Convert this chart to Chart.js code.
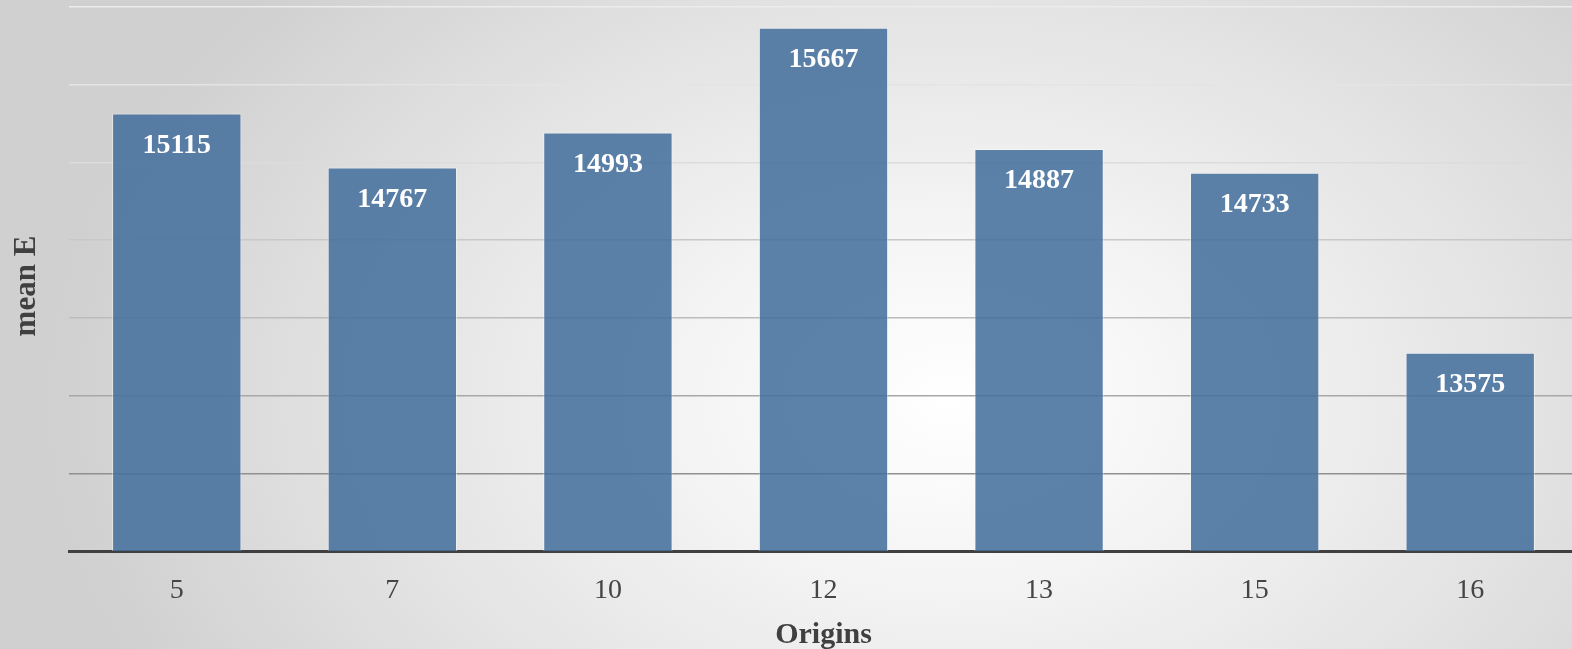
<!DOCTYPE html>
<html>
<head>
<meta charset="utf-8">
<script src="https://cdn.jsdelivr.net/npm/chart.js@4/dist/chart.umd.min.js"></script>
<style>
  html, body {
    margin: 0;
    padding: 0;
    width: 1572px;
    height: 649px;
    overflow: hidden;
  }
  body {
    background: radial-gradient(ellipse 900px 620px at 950px 400px, #ffffff 0%, #f6f6f6 25%, #e3e3e3 65%, #d0d0d0 100%);
  }
  #wrap { width: 1578px; height: 649px; }
</style>
</head>
<body>
<div id="wrap"><canvas id="meanChart" width="1578" height="649"></canvas></div>
<script>
const origins = ['5', '7', '10', '12', '13', '15', '16'];
const meanE = [15115, 14767, 14993, 15667, 14887, 14733, 13575];

const yMin = 12300;
const yMax = 15800;
const yStep = 500;
const yTitle = 'mean E';

// gridlines fade out towards the top of the plot
const gridShades = {
  12300: 'rgba(0,0,0,0)',
  12800: '#909090',
  13300: '#a8a8a8',
  13800: '#bcbcbc',
  14300: '#c8c8c8',
  14800: '#dcdcdc',
  15300: '#e4e4e4',
  15800: '#ececec'
};

const serif = '"Liberation Serif", "Times New Roman", serif';

// white value label inside the top of each bar
const barValues = {
  id: 'barValues',
  afterDatasetsDraw(chart) {
    const { ctx } = chart;
    const meta = chart.getDatasetMeta(0);
    ctx.save();
    ctx.fillStyle = '#ffffff';
    ctx.font = 'bold 28px ' + serif;
    ctx.textAlign = 'center';
    ctx.textBaseline = 'middle';
    meta.data.forEach((bar, i) => {
      ctx.fillText(String(meanE[i]), bar.x, bar.y + 32);
    });
    ctx.restore();
  }
};

// rotated y title, a little below the middle of the plot
const sideTitle = {
  id: 'sideTitle',
  afterDraw(chart) {
    const { ctx, chartArea } = chart;
    ctx.save();
    ctx.translate(27, (chartArea.top + chartArea.bottom) / 2 + 7);
    ctx.rotate(-Math.PI / 2);
    ctx.fillStyle = '#404040';
    ctx.font = 'bold 31px ' + serif;
    ctx.textAlign = 'center';
    ctx.textBaseline = 'middle';
    ctx.fillText(yTitle, 0, 0);
    ctx.restore();
  }
};

new Chart(document.getElementById('meanChart').getContext('2d'), {
  type: 'bar',
  data: {
    labels: origins,
    datasets: [{
      label: yTitle,
      data: meanE,
      backgroundColor: 'rgba(69, 111, 157, 0.87)',
      borderColor: 'rgba(255, 255, 255, 0.45)',
      borderWidth: 1,
      barPercentage: 0.6,
      categoryPercentage: 1.0
    }]
  },
  options: {
    responsive: false,
    animation: false,
    layout: { padding: { top: 7, right: 0, bottom: 0, left: 0 } },
    plugins: {
      legend: { display: false },
      tooltip: { enabled: false }
    },
    scales: {
      x: {
        z: 1,
        grid: { display: false, drawTicks: false },
        border: { display: true, color: '#404040', width: 3 },
        ticks: {
          color: '#454545',
          padding: 23,
          font: { family: serif, size: 28, lineHeight: 1.2 }
        },
        title: {
          display: true,
          text: 'Origins',
          color: '#404040',
          padding: { top: 0, bottom: 0 },
          font: { family: serif, size: 30, weight: 'bold', lineHeight: 0.95 }
        },
        afterFit(scale) { scale.height = 98; }
      },
      y: {
        min: yMin,
        max: yMax,
        ticks: { display: false, stepSize: yStep },
        grid: {
          drawTicks: false,
          lineWidth: 1.5,
          color: (c) => gridShades[c.tick.value] || '#cccccc'
        },
        border: { display: false },
        title: { display: false },
        afterFit(scale) { scale.width = 69; }
      }
    }
  },
  plugins: [barValues, sideTitle]
});
</script>
</body>
</html>
